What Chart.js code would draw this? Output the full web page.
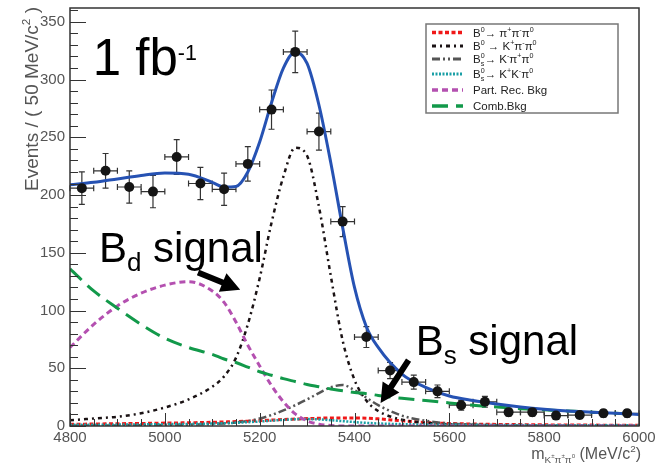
<!DOCTYPE html>
<html>
<head>
<meta charset="utf-8">
<script src="https://cdn.jsdelivr.net/npm/chart.js@4.4.1/dist/chart.umd.min.js"></script>
<style>
    body { margin: 0; background: #fff; }
    canvas { display: block; }
</style>
</head>
<body>
<canvas id="myChart" width="662" height="466"></canvas>
<script>
const fontFamily = '"Liberation Sans", Arial, sans-serif';

// binned data (50 MeV bins)
const binCenters = [4825, 4875, 4925, 4975, 5025, 5075, 5125, 5175, 5225, 5275, 5325, 5375,
    5425, 5475, 5525, 5575, 5625, 5675, 5725, 5775, 5825, 5875, 5925, 5975];
const eventCounts = [206, 221, 207, 203, 233, 210, 205, 227, 274, 324, 255, 177,
    77, 48, 38, 30, 18, 21, 12, 12, 9, 9.5, 11, 11];
const eventErrors = [14, 15, 14, 14, 15, 14, 14, 15, 17, 18, 16, 13,
    9, 7, 6, 5.5, 4.2, 4.6, 3.5, 3.5, 3, 3.1, 3.3, 3.3];

// fit components sampled along the mass axis
const massGrid = [4800, 4850, 4900, 4950, 5000, 5050, 5100, 5125, 5150, 5175, 5200, 5225,
    5250, 5275, 5300, 5325, 5350, 5375, 5400, 5425, 5450, 5500, 5550, 5600,
    5650, 5700, 5750, 5800, 5850, 5900, 5950, 6000];
const totalFit = [209, 211, 214, 217, 219, 218, 211, 207, 207.5, 220, 246, 280,
    310, 324, 314, 278, 228, 172, 120, 86, 68, 45, 33.5, 26,
    22, 19, 16.5, 14.5, 13, 12, 11, 10];
const pipipi = [1.5, 1.7, 2, 2.2, 2.5, 2.8, 3.2, 3.5, 3.8, 4.2, 4.6, 5.1,
    5.6, 6, 6.4, 6.7, 7, 7, 7, 6.8, 6.2, 4.5, 3, 2.2,
    1.7, 1.4, 1.2, 1, 0.9, 0.8, 0.7, 0.7];
const bdKpipi = [5, 6.5, 8, 11, 16, 23, 34, 43, 59, 88, 128, 176,
    216, 241, 234, 190, 130, 74, 40, 22, 13, 5.5, 2.8, 1.5,
    1, 0.6, 0.4, 0.3, 0.2, 0.2, 0.1, 0.1];
const bsKpipi = [0.3, 0.4, 0.5, 0.7, 0.9, 1.2, 1.7, 2.2, 3, 4.3, 6.5, 9.5,
    13.5, 18, 23, 28.5, 33.5, 35.5, 31, 24.5, 18, 9, 4.5, 2.2,
    1.2, 0.7, 0.4, 0.3, 0.2, 0.2, 0.1, 0.1];
const bsKKpi = [1, 1.1, 1.2, 1.4, 1.6, 1.8, 2.1, 2.4, 2.8, 3.3, 3.9, 4.6,
    5.3, 5.9, 6, 5.7, 5, 4.2, 3.4, 2.7, 2.2, 1.6, 1.3, 1.1,
    1, 0.9, 0.8, 0.7, 0.7, 0.6, 0.6, 0.5];
const partRecBkg = [68, 88, 104, 115, 122, 125, 117, 107, 90, 70, 52, 35,
    21, 10.5, 4.5, 1.5, 0.5, 0, 0, 0, 0, 0, 0, 0,
    0, 0, 0, 0, 0, 0, 0, 0];
const combBkg = [136, 117, 102, 88, 76, 68, 62, 58, 55, 51, 47, 44,
    41, 38.5, 36, 34, 32, 30.5, 29, 28, 26.5, 24, 22, 20,
    18, 16.5, 15, 14, 13, 12, 11, 10];

const legendLabels = ['B^{0}→ π^{+}π^{-}π^{0}', 'B^{0} → K^{+}π^{-}π^{0}', 'B^{0}_{s}→ K^{-}π^{+}π^{0}',
    'B^{0}_{s}→ K^{+}K^{-}π^{0}', 'Part. Rec. Bkg', 'Comb.Bkg'];

const xTitle = 'm_{K^{±}π^{±}π^{0}} (MeV/c^{2})';
const yTitle = 'Events / ( 50 MeV/c^{2} )';

// text labels and arrows, in axis units
const notes = [
    { text: '1 fb^{-1}', x: 4848, y: 304, size: 51, scale: 0.42, rise: 0.3 },
    { text: 'B_{d} signal', x: 4861, y: 142, size: 42 },
    { text: 'B_{s} signal', x: 5529, y: 61.5, size: 42 },
];
const arrows = [
    { from: [5070, 133], to: [5159, 118] },
    { from: [5514, 57], to: [5455, 20] },
];

function readGroup(str, i) {
    let depth = 0;
    let j = i;
    for (; j < str.length; j++) {
        if (str[j] === '{') depth++;
        else if (str[j] === '}') {
            depth--;
            if (depth === 0) break;
        }
    }
    return [str.slice(i + 1, j), j + 1];
}

function parseRich(str) {
    const parts = [];
    let buf = '';
    let i = 0;
    while (i < str.length) {
        const c = str[i];
        if (c === '^' || c === '_') {
            if (buf) { parts.push({ text: buf }); buf = ''; }
            let g;
            [g, i] = readGroup(str, i + 1);
            const seg = {};
            seg[c === '^' ? 'sup' : 'sub'] = parseRich(g);
            const n = str[i];
            if ((n === '^' || n === '_') && n !== c) {
                [g, i] = readGroup(str, i + 1);
                seg[n === '^' ? 'sup' : 'sub'] = parseRich(g);
            }
            parts.push(seg);
        } else {
            buf += c;
            i++;
        }
    }
    if (buf) parts.push({ text: buf });
    return parts;
}

function richRun(ctx, parts, x, y, size, draw, opt) {
    let w = 0;
    parts.forEach((p) => {
        if (p.text !== undefined) {
            ctx.font = size + 'px ' + fontFamily;
            if (draw) ctx.fillText(p.text, x + w, y);
            w += ctx.measureText(p.text).width;
        } else {
            const s = size * (opt.scale || 0.62);
            let ws = 0, wb = 0;
            if (p.sup) ws = richRun(ctx, p.sup, x + w, y - size * (opt.rise || 0.42), s, draw, {});
            if (p.sub) wb = richRun(ctx, p.sub, x + w, y + size * 0.22, s, draw, {});
            w += Math.max(ws, wb);
        }
    });
    return w;
}

function drawRich(ctx, str, x, y, size, align, opt) {
    const parts = parseRich(str);
    opt = opt || {};
    ctx.textAlign = 'left';
    ctx.textBaseline = 'alphabetic';
    const w = richRun(ctx, parts, 0, 0, size, false, opt);
    const x0 = align === 'right' ? x - w : align === 'center' ? x - w / 2 : x;
    richRun(ctx, parts, x0, y, size, true, opt);
}

function drawArrow(ctx, x1, y1, x2, y2) {
    const a = Math.atan2(y2 - y1, x2 - x1);
    const head = 19, half = 10, shaft = 3;
    ctx.save();
    ctx.translate(x2, y2);
    ctx.rotate(a);
    const len = Math.hypot(x2 - x1, y2 - y1);
    ctx.beginPath();
    ctx.moveTo(0, 0);
    ctx.lineTo(-head, -half);
    ctx.lineTo(-head, -shaft);
    ctx.lineTo(-len, -shaft);
    ctx.lineTo(-len, shaft);
    ctx.lineTo(-head, shaft);
    ctx.lineTo(-head, half);
    ctx.closePath();
    ctx.fillStyle = '#000';
    ctx.fill();
    ctx.restore();
}

function curve(values) {
    return massGrid.map((m, i) => ({ x: m, y: values[i] }));
}

const histPlugin = {
    id: 'histPlugin',
    beforeDatasetsDraw(chart) {
        const ctx = chart.ctx;
        const xs = chart.scales.x, ys = chart.scales.y;
        ctx.save();
        ctx.strokeStyle = '#333';
        ctx.lineWidth = 1.2;
        binCenters.forEach((m, i) => {
            const px = xs.getPixelForValue(m);
            const py = ys.getPixelForValue(eventCounts[i]);
            const pt = ys.getPixelForValue(eventCounts[i] + eventErrors[i]);
            const pb = ys.getPixelForValue(eventCounts[i] - eventErrors[i]);
            const pl = xs.getPixelForValue(m - 25);
            const pr = xs.getPixelForValue(m + 25);
            ctx.beginPath();
            ctx.moveTo(px, pt); ctx.lineTo(px, pb);
            ctx.moveTo(px - 3, pt); ctx.lineTo(px + 3, pt);
            ctx.moveTo(px - 3, pb); ctx.lineTo(px + 3, pb);
            ctx.moveTo(pl, py); ctx.lineTo(pr, py);
            ctx.moveTo(pl, py - 3); ctx.lineTo(pl, py + 3);
            ctx.moveTo(pr, py - 3); ctx.lineTo(pr, py + 3);
            ctx.stroke();
        });
        ctx.restore();
    },
    afterDraw(chart) {
        const ctx = chart.ctx;
        const xs = chart.scales.x, ys = chart.scales.y;
        const { left, right, top, bottom } = chart.chartArea;
        ctx.save();

        // frame and tick marks
        ctx.strokeStyle = '#333';
        ctx.lineWidth = 1;
        ctx.beginPath();
        for (let v = 0; v <= ys.max; v += 10) {
            const py = Math.round(ys.getPixelForValue(v)) + 0.5;
            ctx.moveTo(left, py);
            ctx.lineTo(left + (v % 50 === 0 ? 16 : 8), py);
        }
        for (let v = xs.min; v <= xs.max; v += 50) {
            const px = Math.round(xs.getPixelForValue(v)) + 0.5;
            ctx.moveTo(px, bottom);
            ctx.lineTo(px, bottom - (v % 200 === 0 ? 13 : 7));
        }
        ctx.stroke();
        ctx.lineWidth = 1.5;
        ctx.strokeRect(left, top, right - left, bottom - top);

        // axis titles
        ctx.fillStyle = '#555';
        drawRich(ctx, xTitle, right + 2, 459, 16, 'right');
        ctx.save();
        ctx.translate(38, top - 1);
        ctx.rotate(-Math.PI / 2);
        drawRich(ctx, yTitle, 0, 0, 19, 'right');
        ctx.restore();

        // legend
        const lx = 426, ly = 24, lw = 192, lh = 89;
        ctx.fillStyle = '#fff';
        ctx.fillRect(lx, ly, lw, lh);
        ctx.strokeStyle = '#777';
        ctx.lineWidth = 1.5;
        ctx.strokeRect(lx, ly, lw, lh);
        const baselines = [36.5, 50, 63, 78, 94, 110];
        chart.data.datasets.forEach((ds) => {
            if (ds.legendRow === undefined) return;
            const by = baselines[ds.legendRow];
            ctx.strokeStyle = ds.borderColor;
            ctx.lineWidth = ds.borderWidth + 0.5;
            ctx.setLineDash(ds.borderDash || []);
            ctx.beginPath();
            ctx.moveTo(lx + 6, by - 4);
            ctx.lineTo(lx + 37, by - 4);
            ctx.stroke();
            ctx.setLineDash([]);
            ctx.fillStyle = '#222';
            drawRich(ctx, legendLabels[ds.legendRow], lx + 47, by, 11.5, 'left');
        });

        // annotations
        ctx.fillStyle = '#000';
        notes.forEach((n) => {
            drawRich(ctx, n.text, xs.getPixelForValue(n.x), ys.getPixelForValue(n.y), n.size, 'left',
                { scale: n.scale, rise: n.rise });
        });
        arrows.forEach((a) => {
            drawArrow(ctx, xs.getPixelForValue(a.from[0]), ys.getPixelForValue(a.from[1]),
                xs.getPixelForValue(a.to[0]), ys.getPixelForValue(a.to[1]));
        });
        ctx.restore();
    }
};

function lineSet(values, color, width, dash, row) {
    return {
        data: curve(values),
        showLine: true,
        borderColor: color,
        borderWidth: width,
        borderDash: dash,
        pointRadius: 0,
        fill: false,
        cubicInterpolationMode: 'monotone',
        legendRow: row,
    };
}

const tickStyle = {
    color: '#555',
    font: { size: 15, family: fontFamily },
    callback: (value) => String(value),
};

new Chart(document.getElementById('myChart'), {
    type: 'scatter',
    data: {
        datasets: [
            {
                data: binCenters.map((m, i) => ({ x: m, y: eventCounts[i] })),
                pointRadius: 5,
                pointBackgroundColor: '#151515',
                pointBorderWidth: 0,
                showLine: false,
            },
            lineSet(totalFit, '#2652b3', 3, []),
            lineSet(combBkg, '#12994a', 3, [16, 8], 5),
            lineSet(partRecBkg, '#b450b0', 3, [6, 4], 4),
            lineSet(bsKKpi, '#1a9fa6', 2.5, [2, 1.5], 3),
            lineSet(bsKpipi, '#555', 2.5, [8, 3, 2, 3, 2, 3], 2),
            lineSet(bdKpipi, '#1a1214', 2.5, [4, 4, 2, 4], 1),
            lineSet(pipipi, '#f01818', 3, [4, 2.5], 0),
        ]
    },
    options: {
        responsive: false,
        animation: false,
        devicePixelRatio: 1,
        layout: { padding: { top: 8, right: 23, left: 0, bottom: 0 } },
        plugins: {
            legend: { display: false },
            tooltip: { enabled: false },
        },
        scales: {
            x: {
                type: 'linear',
                min: 4800,
                max: 6000,
                grid: { display: false, drawTicks: false },
                border: { display: false },
                ticks: { ...tickStyle, stepSize: 200, padding: 3, maxRotation: 0, autoSkip: false },
                afterFit(scale) {
                    scale.height = 40;
                    scale.paddingLeft = 0;
                    scale.paddingRight = 0;
                },
            },
            y: {
                min: 0,
                max: 362,
                grid: { display: false, drawTicks: false },
                border: { display: false },
                ticks: { ...tickStyle, stepSize: 50, padding: 5, includeBounds: false },
                afterFit(scale) {
                    scale.width = 70;
                    scale.paddingTop = 0;
                    scale.paddingBottom = 0;
                },
            }
        }
    },
    plugins: [histPlugin]
});
</script>
</body>
</html>
